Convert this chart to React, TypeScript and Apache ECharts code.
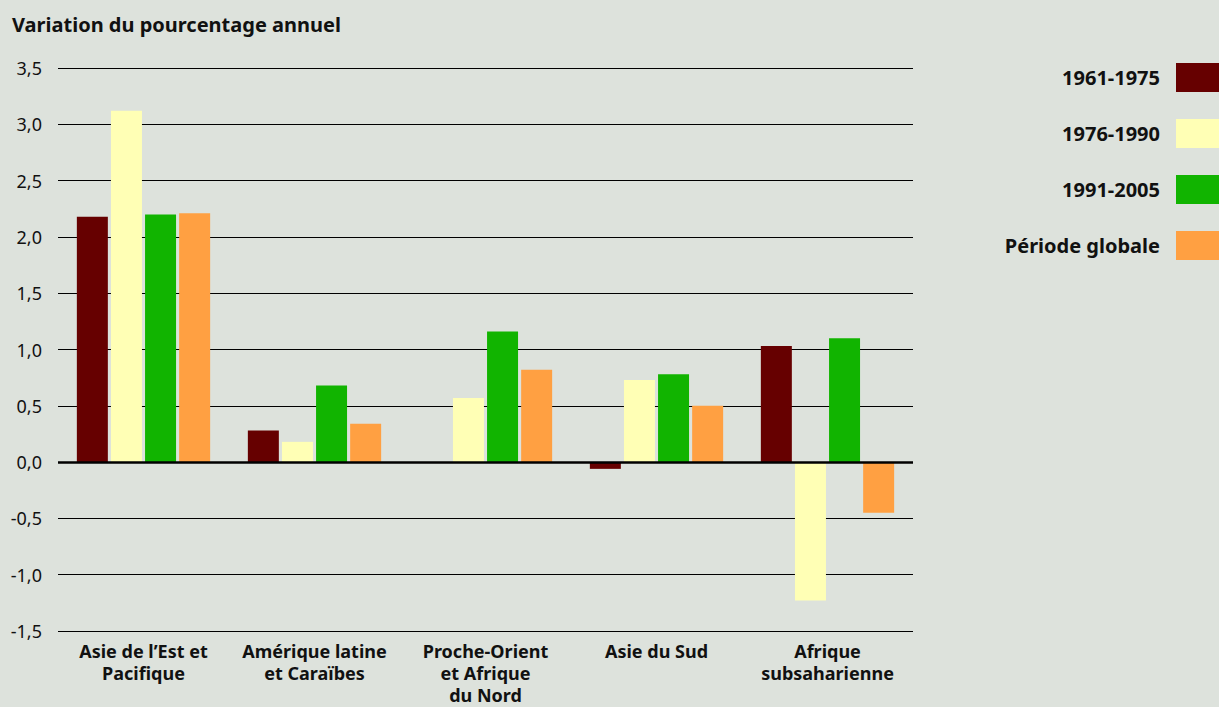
import React, { useEffect, useRef } from "react";
import * as echarts from "echarts";

const categories = [
  "Asie de l\u2019Est et\nPacifique",
  "Amérique latine\net Caraïbes",
  "Proche-Orient\net Afrique\ndu Nord",
  "Asie du Sud",
  "Afrique\nsubsaharienne",
];
const seriesNames = ["1961-1975", "1976-1990", "1991-2005", "Période globale"];
const s1961 = [2.18, 0.28, 0.0, -0.06, 1.03];
const s1976 = [3.12, 0.18, 0.57, 0.73, -1.23];
const s1991 = [2.2, 0.68, 1.16, 0.78, 1.1];
const sGlobal = [2.21, 0.34, 0.82, 0.5, -0.45];
const colors = ["#660000", "#ffffb5", "#11b400", "#ffa042"];

const FONT = "Noto Sans";

export default function App() {
  const ref = useRef<HTMLDivElement>(null);
  useEffect(() => {
    document.body.style.margin = "0";
    document.body.style.background = "#dde2dc";
    const chart = echarts.init(ref.current!, null, { renderer: "svg" });
    const data = [s1961, s1976, s1991, sGlobal];
    chart.setOption({
      animation: false,
      backgroundColor: "#dde2dc",
      textStyle: { fontFamily: FONT },
      title: {
        text: "Variation du pourcentage annuel",
        left: 7,
        top: 9,
        textStyle: { fontSize: 20, fontWeight: "bold", color: "#111", fontFamily: FONT },
      },
      legend: {
        orient: "vertical",
        right: 0,
        top: 63,
        padding: 0,
        align: "right",
        itemWidth: 43,
        itemHeight: 29,
        itemGap: 27,
        icon: "rect",
        textStyle: { fontSize: 20, fontWeight: "bold", color: "#111", fontFamily: FONT, padding: [0, 11, 0, 0] },
        data: seriesNames,
      },
      grid: { left: 58, right: 306, top: 68, bottom: 76, outerBoundsMode: "none" },
      xAxis: {
        type: "category",
        data: categories,
        axisLine: { show: false, onZero: false },
        axisTick: { show: false },
        axisLabel: {
          margin: 9,
          fontSize: 18,
          fontWeight: "bold",
          color: "#111",
          lineHeight: 22,
          interval: 0,
          fontFamily: FONT,
        },
      },
      yAxis: {
        type: "value",
        min: -1.5,
        max: 3.5,
        interval: 0.5,
        axisLine: { show: false },
        axisTick: { show: false },
        splitLine: { lineStyle: { color: "#000", width: 1 } },
        axisLabel: {
          margin: 16,
          fontSize: 18,
          color: "#111",
          fontFamily: FONT,
          formatter: (v: number) => v.toFixed(1).replace(".", ","),
        },
      },
      series: seriesNames.map((name, i) => ({
        name,
        type: "bar",
        data: data[i],
        barWidth: 31,
        barGap: "10%",
        itemStyle: { color: colors[i] },
        markLine:
          i === 0
            ? {
                silent: true,
                symbol: "none",
                label: { show: false },
                lineStyle: { color: "#000", width: 2.5, type: "solid" },
                data: [{ yAxis: 0 }],
              }
            : undefined,
      })),
    });
    return () => chart.dispose();
  }, []);
  return <div ref={ref} style={{ width: 1219, height: 707 }} />;
}
